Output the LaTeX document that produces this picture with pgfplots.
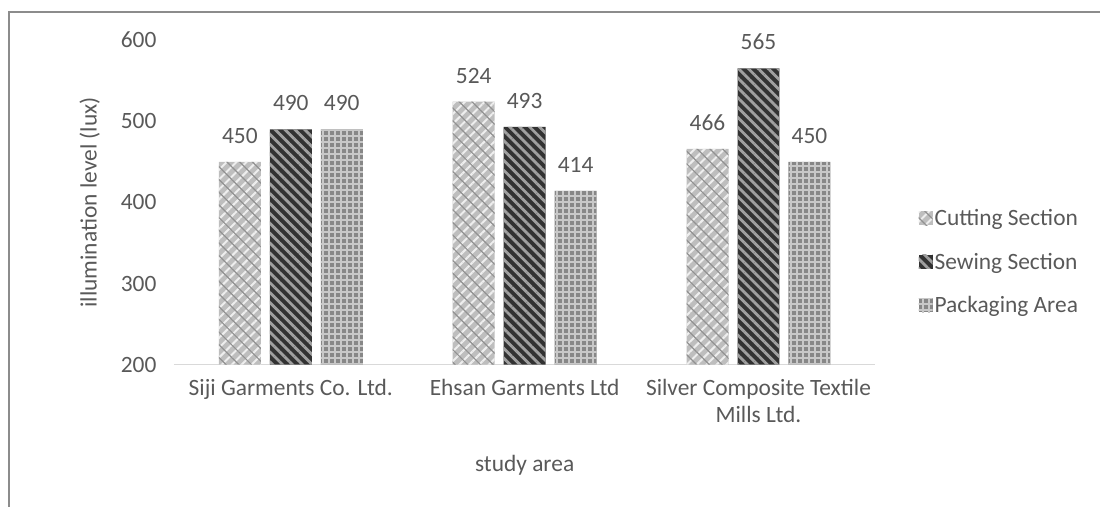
\documentclass[border=0pt]{standalone}
\usepackage{fontspec}
\setmainfont{Carlito}
\usepackage{pgfplots}
\pgfplotsset{compat=1.18}
\usetikzlibrary{patterns.meta}
\definecolor{txt}{HTML}{595959}
\definecolor{axl}{HTML}{D9D9D9}
\definecolor{frm}{HTML}{8C8C8C}
\begin{document}
\begin{tikzpicture}[x=1bp,y=1bp]
\path (0,0) rectangle (1101,507);
\draw[frm, line width=1.5bp] (9,0) -- (9,495) -- (1101,495);
\begin{axis}[
  at={(174bp,142bp)}, anchor=south west,
  scale only axis, width=702bp, height=325bp,
  ybar=9bp, bar width=42bp,
  xmin=-0.5, xmax=2.5, ymin=200, ymax=600,
  xtick=data,
  xticklabels={Siji Garments Co. Ltd., Ehsan Garments Ltd, {Silver Composite Textile\\Mills Ltd.}},
  ytick={200,300,400,500,600},
  axis x line*=bottom, axis y line*=left,
  x axis line style={axl, line width=1.3bp, -},
  y axis line style={draw=none},
  major tick length=0pt,
  font=\fontsize{23.5}{27}\selectfont,
  tick label style={txt},
  xticklabel style={align=center, yshift=-11bp},
  yticklabel style={xshift=-14bp},
  /pgf/number format/assume math mode=true,
  ylabel={illumination level (lux)}, xlabel={study area},
  label style={txt},
  ylabel style={at={(axis description cs:-0.12,0.5)}, anchor=center},
  xlabel style={at={(axis description cs:0.5,-0.308)}, anchor=center},
  clip=false,
  nodes near coords,
  every node near coord/.append style={txt, yshift=15bp},
  legend style={draw=none, fill=none, at={(axis description cs:1.057,0.317)}, anchor=west, text=txt,
    font=\fontsize{23.5}{27}\selectfont, row sep=22bp, /tikz/every even column/.append style={column sep=3bp}},
  legend cell align=left,
  legend image code/.code={\path[#1, draw=none] (0bp,-7bp) rectangle (14bp,7bp);},
]
\addplot[draw=none, fill={rgb,255:red,190;green,190;blue,190},
  postaction={pattern={Lines[angle=45,distance=7bp,line width=2bp]}, pattern color={rgb,255:red,238;green,238;blue,238}},
  postaction={pattern={Lines[angle=-45,distance=9bp,line width=1.2bp]}, pattern color={rgb,255:red,145;green,145;blue,145}}]
  coordinates {(0,450) (1,524) (2,466)};
\addplot[draw=none, fill={rgb,255:red,50;green,50;blue,50},
  postaction={pattern={Lines[angle=-45,distance=7bp,line width=2.8bp]}, pattern color={rgb,255:red,160;green,160;blue,160}}]
  coordinates {(0,490) (1,493) (2,565)};
\addplot[draw=none, fill={rgb,255:red,135;green,135;blue,135},
  postaction={pattern={Hatch[distance=6bp,line width=1.8bp]}, pattern color={rgb,255:red,200;green,200;blue,200}}]
  coordinates {(0,490) (1,414) (2,450)};
\legend{Cutting Section, Sewing Section, Packaging Area}
\end{axis}
\end{tikzpicture}
\end{document}
